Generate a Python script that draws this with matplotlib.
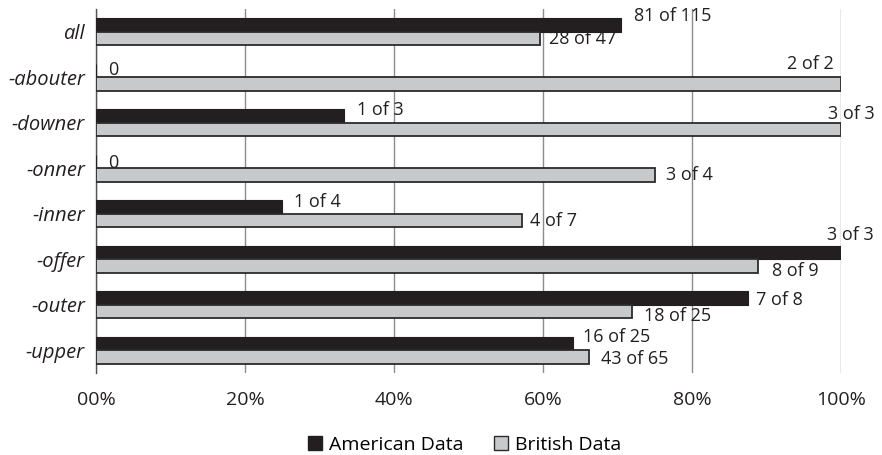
import numpy as np
import matplotlib
matplotlib.use("Agg")
import matplotlib.pyplot as plt
from matplotlib.patches import Patch

plt.rcParams['font.family'] = ['Open Sans', 'DejaVu Sans']

categories = ['all', '-abouter', '-downer', '-onner', '-inner', '-offer', '-outer', '-upper']
american_hits = [81, 0, 1, 0, 1, 3, 7, 16]
american_totals = [115, 0, 3, 0, 4, 3, 8, 25]
british_hits = [28, 2, 3, 3, 4, 8, 18, 43]
british_totals = [47, 2, 3, 4, 7, 9, 25, 65]
x_ticks = [0, 20, 40, 60, 80, 100]
x_tick_labels = ['00%', '20%', '40%', '60%', '80%', '100%']


def shares(hits, totals):
    return np.array([h / t * 100 if t else 0.0 for h, t in zip(hits, totals)])


def labels(hits, totals):
    return [f'{h} of {t}' if t else '0' for h, t in zip(hits, totals)]


am_vals = shares(american_hits, american_totals)
br_vals = shares(british_hits, british_totals)
am_labels = labels(american_hits, american_totals)
br_labels = labels(british_hits, british_totals)

# label nudges in pixels (dx from bar end, dy upward, alignment)
am_nudge = [(13, 9, 'left'), (12, 0, 'left'), (13, 6, 'left'), (12, -2, 'left'),
            (12, 5, 'left'), (-14, 17, 'left'), (8, -2, 'left'), (10, 6, 'left')]
br_nudge = [(9, 0, 'left'), (-7, 20, 'right'), (-13, 16, 'left'), (11, 0, 'left'),
            (8, 0, 'left'), (14, -5, 'left'), (12, -4, 'left'), (12, -2, 'left')]

fig = plt.figure(figsize=(8.82, 4.55), dpi=100)
ax = fig.add_axes([96 / 882, 1 - 373 / 455, 745 / 882, 364 / 455])

y = np.arange(len(categories))
h = 0.3
dark = '#231f20'
light = '#c8c9cb'

ax.barh(y - h / 2, am_vals, height=h, color=dark, edgecolor=dark, linewidth=0.8, zorder=3)
ax.barh(y + h / 2, br_vals, height=h, color=light, edgecolor='#2b2b2b', linewidth=1.3, zorder=3)

px = 0.72  # points per pixel at 100 dpi
for i in range(len(categories)):
    dx, dy, ha = am_nudge[i]
    ax.annotate(am_labels[i], (am_vals[i], y[i] - h / 2), xytext=(dx * px, dy * px),
                textcoords='offset points', ha=ha, va='center', fontsize=13,
                color='#231f20', zorder=4)
    dx, dy, ha = br_nudge[i]
    ax.annotate(br_labels[i], (br_vals[i], y[i] + h / 2), xytext=(dx * px, dy * px),
                textcoords='offset points', ha=ha, va='center', fontsize=13,
                color='#231f20', zorder=4)

ax.set_xlim(0, 100)
ax.set_ylim(len(categories) - 0.5, -0.5)
ax.set_yticks(y)
ax.set_yticklabels(categories, fontsize=14.5, style='italic', color='#231f20')
ax.set_xticks(x_ticks)
ax.set_xticklabels(x_tick_labels, fontsize=14, color='#231f20')
ax.tick_params(axis='both', length=0)
ax.tick_params(axis='x', pad=13)
ax.tick_params(axis='y', pad=8)

ax.grid(axis='x', color='#8c8c8c', linewidth=1, zorder=0)
for side in ['top', 'right', 'bottom']:
    ax.spines[side].set_visible(False)
ax.spines['left'].set_color('#555555')
ax.spines['left'].set_linewidth(1)

handles = [Patch(facecolor=dark, edgecolor=dark, label='American Data'),
           Patch(facecolor=light, edgecolor='#2b2b2b', label='British Data')]
fig.legend(handles=handles, loc='center', bbox_to_anchor=(0.527, 0.022), ncol=2,
           frameon=False, fontsize=14, handlelength=0.7, handleheight=0.7,
           handletextpad=0.35, columnspacing=1.6)

fig.savefig('out.png', dpi=100)
